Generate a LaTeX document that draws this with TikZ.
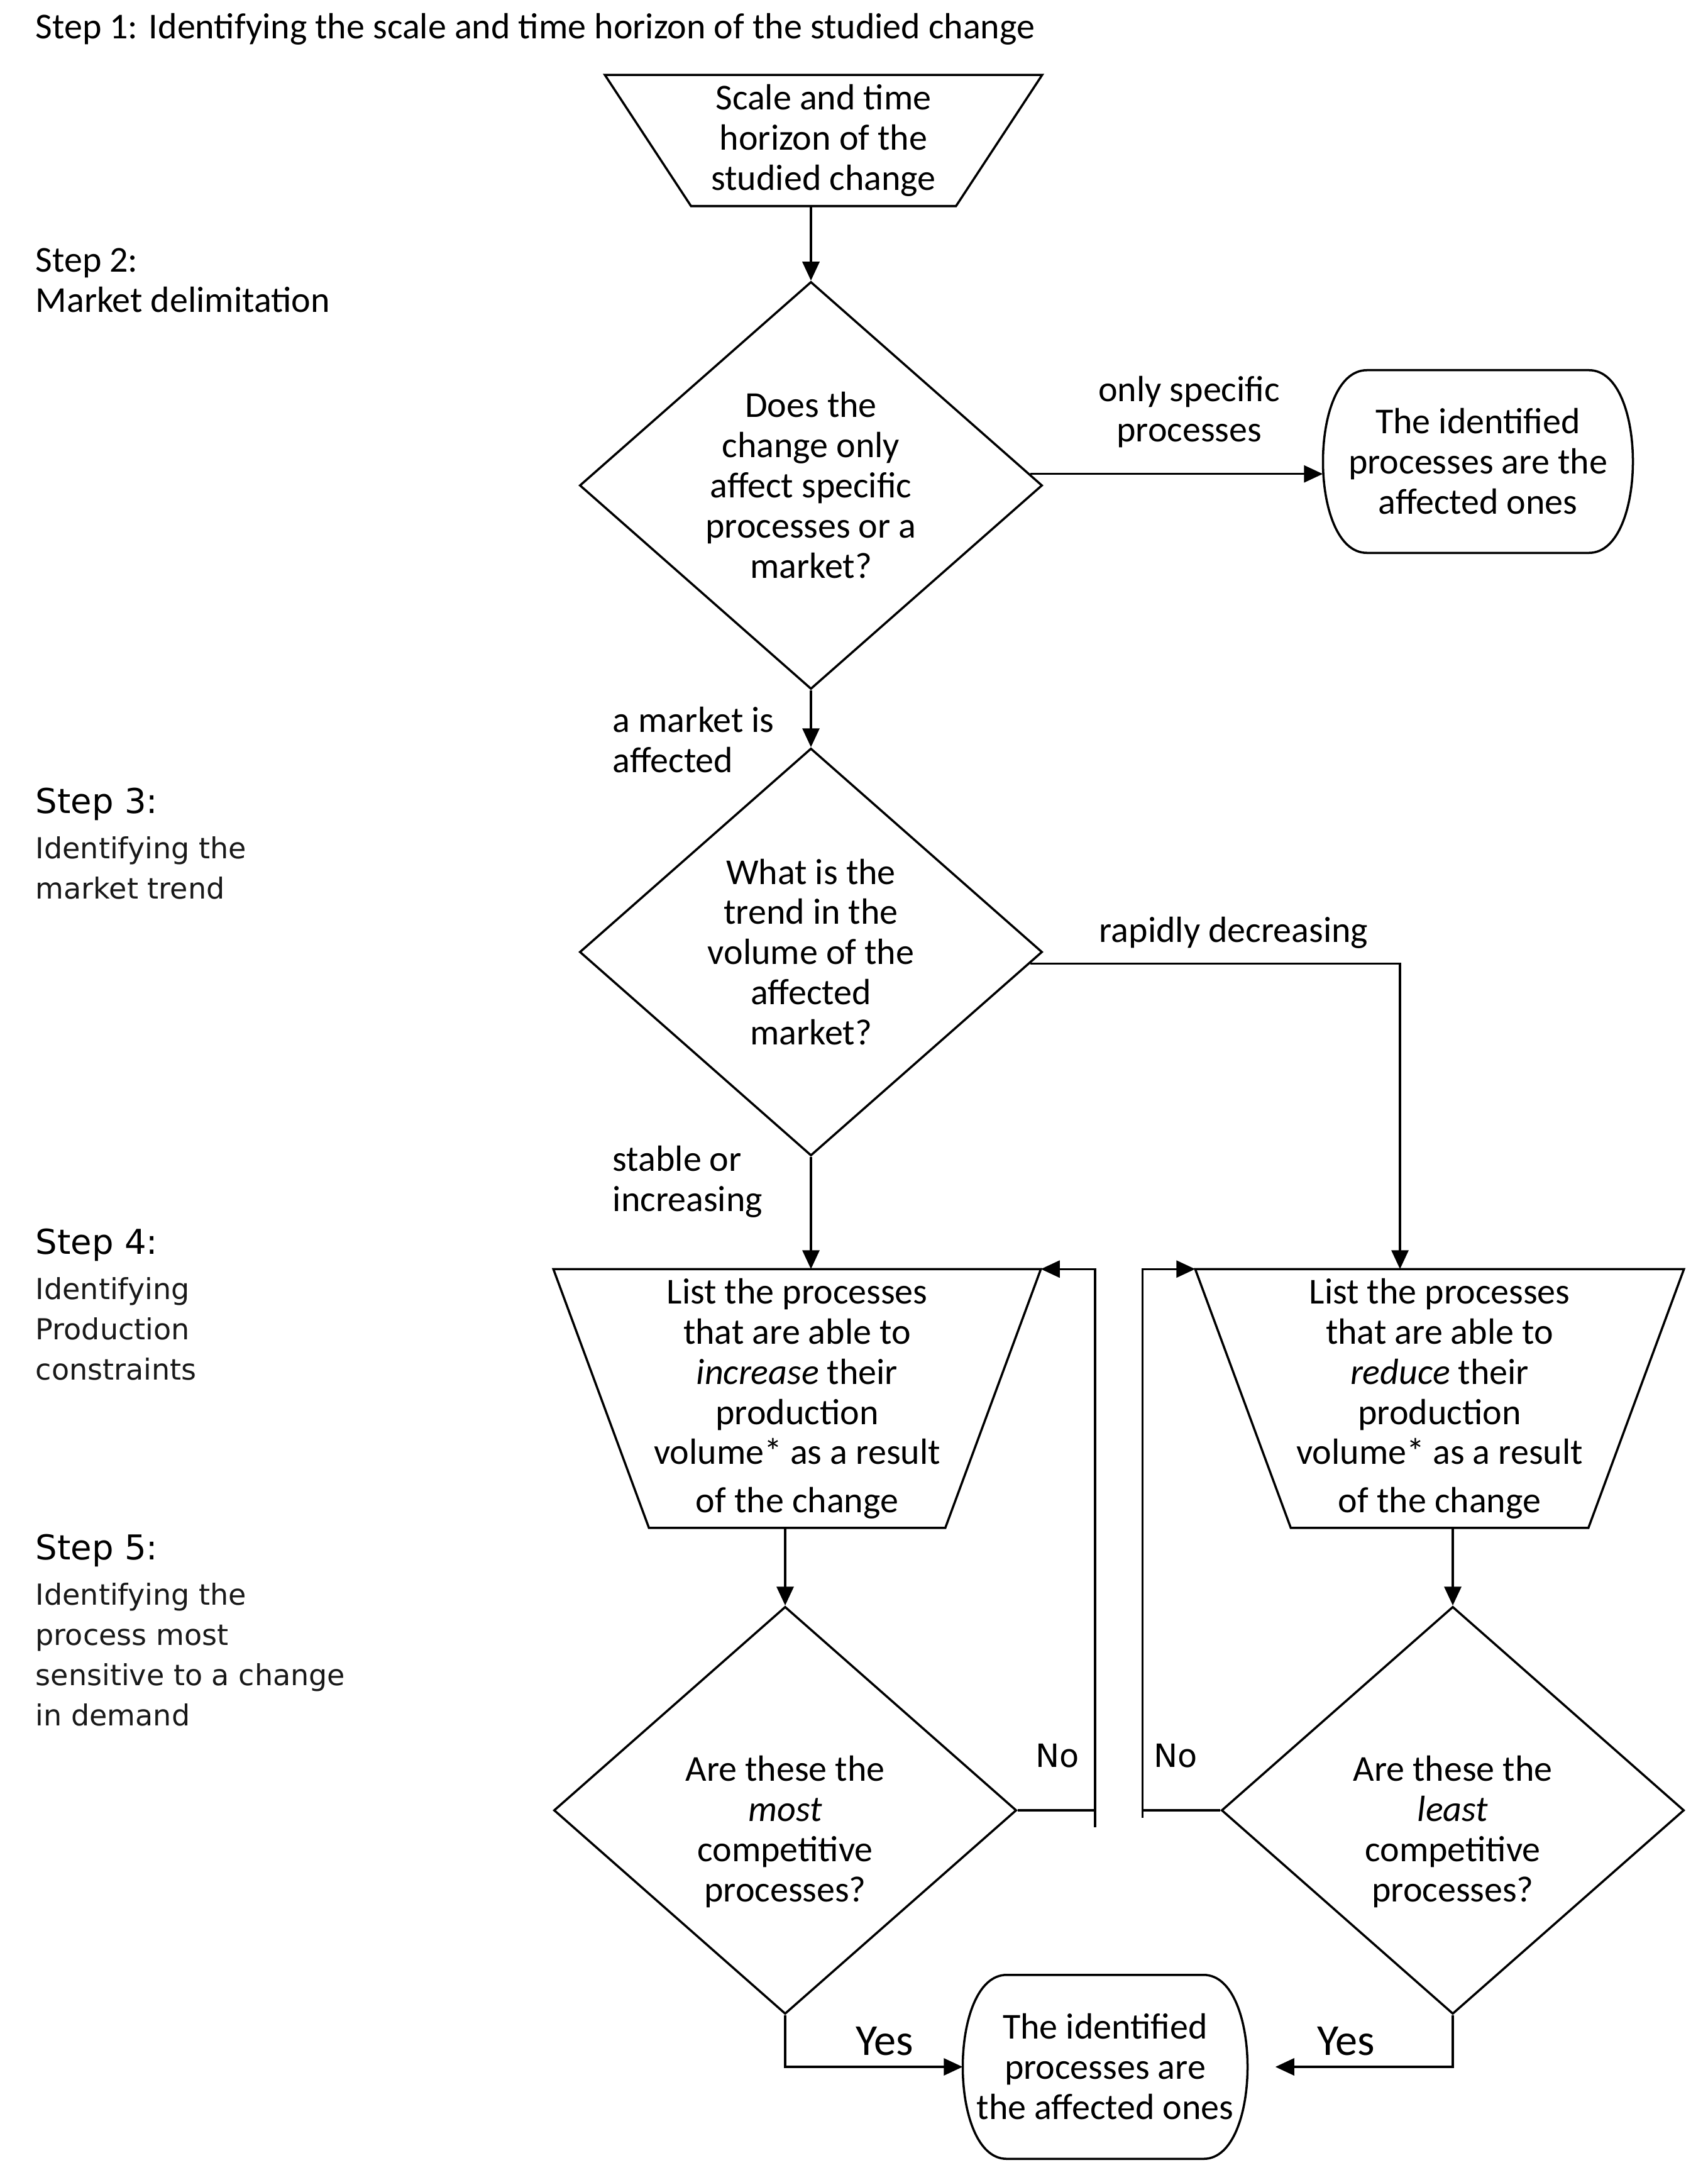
\documentclass[tikz,border=0pt]{standalone}
\usepackage{fontspec}
\setmainfont{Carlito}
\newfontfamily\verdanalike{DejaVu Sans}
\usetikzlibrary{arrows.meta,shapes.geometric,positioning}

\tikzset{
  every node/.style={font=\fontsize{16.5}{18.2}\selectfont},
  decision/.style={diamond,draw,aspect=1.14,inner sep=0pt,
    minimum width=7.36cm,minimum height=6.48cm,align=center},
  funnel/.style={inner sep=0pt,align=center},
  terminal/.style={inner sep=0pt,align=center},
  plain/.style={inner sep=0pt,align=left,anchor=west},
  steptitle/.style={inner sep=0pt,anchor=west,
    font=\verdanalike\fontsize{15.5}{18}\selectfont},
  stepdesc/.style={inner sep=0pt,align=left,text=black!90,
    font=\verdanalike\fontsize{13.1}{18.2}\selectfont},
  answer/.style={inner sep=0pt,font=\fontsize{20}{24}\selectfont},
  noanswer/.style={inner sep=0pt,font=\verdanalike\fontsize{14.5}{17}\selectfont}
}

\begin{document}
\begin{tikzpicture}[>={Triangle[length=3mm,width=2.7mm]},line width=1pt]
\useasboundingbox (0,0) rectangle (27.17,-34.59);

% step headings on the left
\node (s1) [plain] at (0.55,-0.46) {Step 1: Identifying the scale and time horizon of the studied change};
\node (s2) [plain] at (0.55,-4.455) {Step 2:\\Market delimitation};
\node (s3) [steptitle] at (0.55,-12.79) {Step 3:};
\node (s3d) [stepdesc,below=2.2mm of s3.south west,anchor=north west] {Identifying the\\market trend};
\node (s4) [steptitle] at (0.55,-19.80) {Step 4:};
\node (s4d) [stepdesc,below=2.2mm of s4.south west,anchor=north west] {Identifying\\Production\\constraints};
\node (s5) [steptitle] at (0.55,-24.66) {Step 5:};
\node (s5d) [stepdesc,below=2.2mm of s5.south west,anchor=north west] {Identifying the\\process most\\sensitive to a change\\in demand};

% boxes
\node (t0) [funnel,minimum width=6.92cm,minimum height=2.05cm] at (13.10,-2.235) {Scale and time\\horizon of the\\studied change};
\node (d1) [decision] at (12.90,-7.72) {Does the\\change only\\affect specific\\processes or a\\market?};
\node (t1) [terminal,minimum width=4.9cm,minimum height=2.87cm] at (23.51,-7.34) {The identified\\processes are the\\affected ones};
\node (d2) [decision] at (12.90,-15.14) {What is the\\trend in the\\volume of the\\affected\\market?};
\node (p1) [funnel,minimum width=7.72cm,minimum height=4.08cm] at (12.68,-22.24) {List the processes\\that are able to\\\emph{increase} their\\production\\volume* as a result\\[3.5pt]of the change};
\node (p2) [funnel,minimum width=7.74cm,minimum height=4.08cm] at (22.90,-22.24) {List the processes\\that are able to\\\emph{reduce} their\\production\\volume* as a result\\[3.5pt]of the change};
\node (d4) [decision] at (12.49,-28.79) {\rule{0pt}{1.08cm}Are these the\\\emph{most}\\competitive\\processes?};
\node (d5) [decision] at (23.11,-28.79) {\rule{0pt}{1.08cm}Are these the\\\emph{least}\\competitive\\processes?};
\node (t2) [terminal,minimum width=4.5cm,minimum height=2.89cm] at (17.58,-32.87) {The identified\\processes are\\the affected ones};

% outlines: funnels and end boxes
\foreach \n/\inset in {t0/1.37,p1/1.52,p2/1.52}
  \draw (\n.north west) -- (\n.north east) -- ([xshift=-\inset cm]\n.south east) -- ([xshift=\inset cm]\n.south west) -- cycle;
\foreach \n in {t1,t2}
  \draw ([xshift=7mm]\n.north west) -- ([xshift=-7mm]\n.north east)
    .. controls ([xshift=2.3mm]\n.north east) and ([xshift=2.3mm]\n.south east) .. ([xshift=-7mm]\n.south east)
    -- ([xshift=7mm]\n.south west)
    .. controls ([xshift=-2.3mm]\n.south west) and ([xshift=-2.3mm]\n.north west) .. ([xshift=7mm]\n.north west) -- cycle;

% connectors
\draw[->] (d1.north |- t0.south) -- (d1.north);
\draw[->] (d1.3) -- (d1.3 -| t1.west) node (l1) [midway,above=2.8mm,xshift=2mm,align=center] {only specific\\processes};
\draw[->] (d1.south) -- (d2.north);
\node (l2) [plain] at (9.73,-11.77) {a market is\\affected};
\draw[->] (d2.south) -- (d2.south |- p1.north);
\node (l4) [plain] at (9.73,-18.79) {stable or\\increasing};
\draw[->] (d2.-3) -| ([xshift=-6.3mm]p2.north) node (l3) [pos=0.275,above=1mm] {rapidly decreasing};
\draw[->] (d4.north |- p1.south) -- (d4.north);
\draw[->] (d5.north |- p2.south) -- (d5.north);

% No: back to the lists
\path (d4.east) ++(1.23,0) coordinate (c4);
\path (d5.west) ++(-1.24,0) coordinate (c5);
\draw[->] (d4.east) -- (c4) |- (p1.north east);
\draw[->] (d5.west) -- (c5) |- (p2.north west);
\draw (c4) -- ++(0,-0.27);
\draw (c5) -- ++(0,-0.12);
\node (n4) [noanswer] at (16.82,-27.92) {No};
\node (n5) [noanswer] at (18.70,-27.92) {No};

% Yes: done
\draw[->] (d4.south) |- (t2.west);
\draw[->,shorten >=4.4mm] (d5.south) |- (t2.east);
\node (y4) [answer] at (14.07,-32.46) {Yes};
\node (y5) [answer] at (21.41,-32.46) {Yes};
\end{tikzpicture}
\end{document}
